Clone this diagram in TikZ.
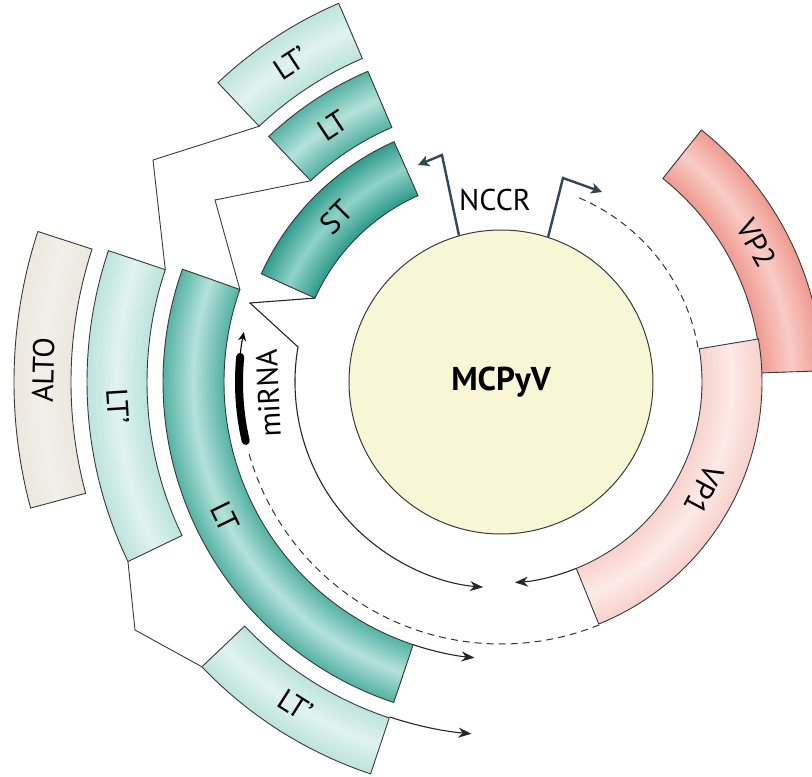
\documentclass[tikz,border=0pt]{standalone}
\usepackage{fontspec}
\setmainfont{PT Sans}
\usetikzlibrary{arrows.meta}
\definecolor{ltpE}{HTML}{BCE3DC}
\definecolor{ltpC}{HTML}{E0F3F0}
\definecolor{ltE}{HTML}{52B1A2}
\definecolor{ltC}{HTML}{B3E1D9}
\definecolor{stE}{HTML}{2C9A8A}
\definecolor{stC}{HTML}{8ED1C6}
\definecolor{altoE}{HTML}{ECE8DF}
\definecolor{altoC}{HTML}{F2EFE9}
\definecolor{vptwoE}{HTML}{EE9990}
\definecolor{vptwoC}{HTML}{F9CBC5}
\definecolor{vponeE}{HTML}{F8D0CB}
\definecolor{vponeC}{HTML}{FDEAE7}
\definecolor{yel}{HTML}{F8F7D5}
\definecolor{edgec}{HTML}{3A3A3A}
\definecolor{nccrc}{HTML}{2F4858}
\newcommand\gband[6]{%
  \begin{scope}
    \clip (#3:#5) arc[start angle=#3,end angle=#4,radius=#5] -- (#4:#6) arc[start angle=#4,end angle=#3,radius=#6] -- cycle;
    \pgfmathsetmacro\gbm{(#5+#6)/2}
    \foreach \k in {0,...,20}{%
      \pgfmathsetmacro\gbw{(#6-#5)*(1.05-\k/20)}
      \pgfmathtruncatemacro\gbp{\k*5}
      \draw[line width=\gbw pt, color=#2!\gbp!#1] (#3-4:\gbm) arc[start angle=#3-4, end angle=#4+4, radius=\gbm];
    }
  \end{scope}
  \draw[segline] (#3:#5) arc[start angle=#3,end angle=#4,radius=#5] -- (#4:#6) arc[start angle=#4,end angle=#3,radius=#6] -- cycle;
}
\begin{document}
\begin{tikzpicture}[x=1pt,y=1pt,
  segline/.style={draw=edgec, line width=0.9pt, line join=miter},
  lab/.style={font=\fontsize{30}{32}\selectfont, inner sep=0pt},
  conn/.style={draw=edgec, line width=0.9pt, line join=miter},
  inarr/.style={draw=black!85, line width=1.1pt, -{Stealth[length=13pt,width=10pt]}},
  dsh/.style={draw=black!80, line width=1pt, dash pattern=on 7pt off 5pt},
  nccr/.style={draw=nccrc, line width=2.4pt, line join=miter, -{Stealth[length=11pt,width=11pt,inset=3pt]}}]
\useasboundingbox (-501,-395) rectangle (311,382);
\clip (-501,-395) rectangle (311,382);

% genome circle
\node[circle, draw=edgec, fill=yel, line width=1pt, minimum size=304pt, inner sep=0pt,
      font=\bfseries\fontsize{33}{35}\selectfont] (c) at (0,0) {MCPyV};

% gene segments
\gband{vptwoE}{vptwoC}{2}{51.5}{260}{322}
\gband{vponeE}{vponeC}{-68}{9.5}{201}{261}
\gband{stE}{stC}{114}{155.7}{204}{263}
\gband{ltE}{ltC}{113.2}{133.4}{277}{338}
\gband{ltpE}{ltpC}{113.2}{133.4}{352}{412}
\gband{ltE}{ltC}{160.5}{251.5}{277}{338}
\gband{ltpE}{ltpC}{161.5}{205.7}{354}{414}
\gband{altoE}{altoC}{162}{195}{430}{487}
\gband{ltpE}{ltpC}{223.6}{251.6}{354}{413}

% corner coordinates
\coordinate (ltpTopIn) at (133.4:352);
\coordinate (ltpLeftIn) at (161.5:354);
\coordinate (ltpLeftOut) at (205.7:414);
\coordinate (ltpBotOut) at (223.6:413);
\coordinate (ltpBotIn) at (251.6:353);
\coordinate (ltTopIn) at (133.4:277);
\coordinate (ltBigIn) at (160.5:277);
\coordinate (ltBigEnd) at (251.5:277);
\coordinate (stIn) at (155.7:204);
\coordinate (vpInB) at (-68:201);
\coordinate (vpOutB) at (-68:262);
\coordinate (vpInT) at (9.5:200);

% splice connectors
\coordinate (k1) at (-348,222);
\coordinate (k2) at (-286,182);
\coordinate (k3) at (-251,79);
\coordinate (k4) at (170.2:206);
\coordinate (k5) at (-366,-248);
\draw[conn] (ltpTopIn) -- (k1) -- (ltpLeftIn);
\draw[conn] (ltTopIn) -- (k2) -- (ltBigIn);
\draw[conn] (ltpLeftOut) -- (k5) -- (ltpBotOut);
\draw[inarr] (stIn) -- (k3) -- (k4) arc[start angle=170.2, end angle=265, radius=206];
\draw[inarr] (vpInB) arc[start angle=-68, end angle=-86, radius=201];
\draw[inarr] (ltBigEnd) arc[start angle=251.5, end angle=264.5, radius=277];
\draw[inarr] (ltpBotIn) arc[start angle=251.6, end angle=265.2, radius=353];

% dashed transcripts
\coordinate (d1) at (67:200);
\draw[dsh] (d1) arc[start angle=67, end angle=9.5, radius=200];
\draw[dsh] (vpOutB) arc[start angle=-68, end angle=-164, radius=262];

% miRNA
\coordinate (mi1) at (193:262);
\draw[line width=1.1pt, -{Stealth[length=9pt,width=8pt]}] (mi1) arc[start angle=193, end angle=169, radius=262];
\draw[line width=8pt, line cap=round] (mi1) arc[start angle=193, end angle=174.5, radius=262];
\node[lab, rotate=92.7] (mirna) at (182.7:233) {miRNA};

% NCCR promoters
\coordinate (p1) at (-59,227);
\coordinate (p1t) at (-83,217);
\coordinate (p2) at (62,204);
\coordinate (p2t) at (101,190);
\draw[nccr] (c.106) -- (p1) -- (p1t);
\draw[nccr] (c.72) -- (p2) -- (p2t);
\node[lab] (nccrlab) at (-6,182) {NCCR};

% labels
\node[lab, rotate=33.3] (lab1) at (123.3:382) {LT’};
\node[lab, rotate=33.3] (lab2) at (123.3:307) {LT};
\node[lab, rotate=45] (lab3) at (135:233) {ST};
\node[lab, rotate=88.5] (lab4) at (178.5:458) {ALTO};
\node[lab, rotate=-86.4] (lab5) at (183.6:384) {LT’};
\node[lab, rotate=-64] (lab6) at (206:307) {LT};
\node[lab, rotate=-32.4] (lab7) at (237.6:383) {LT’};
\node[lab, rotate=-61.5] (lab8) at (28.5:291) {VP2};
\node[lab, rotate=-118] (lab9) at (-28:230) {VP1};
\end{tikzpicture}
\end{document}
